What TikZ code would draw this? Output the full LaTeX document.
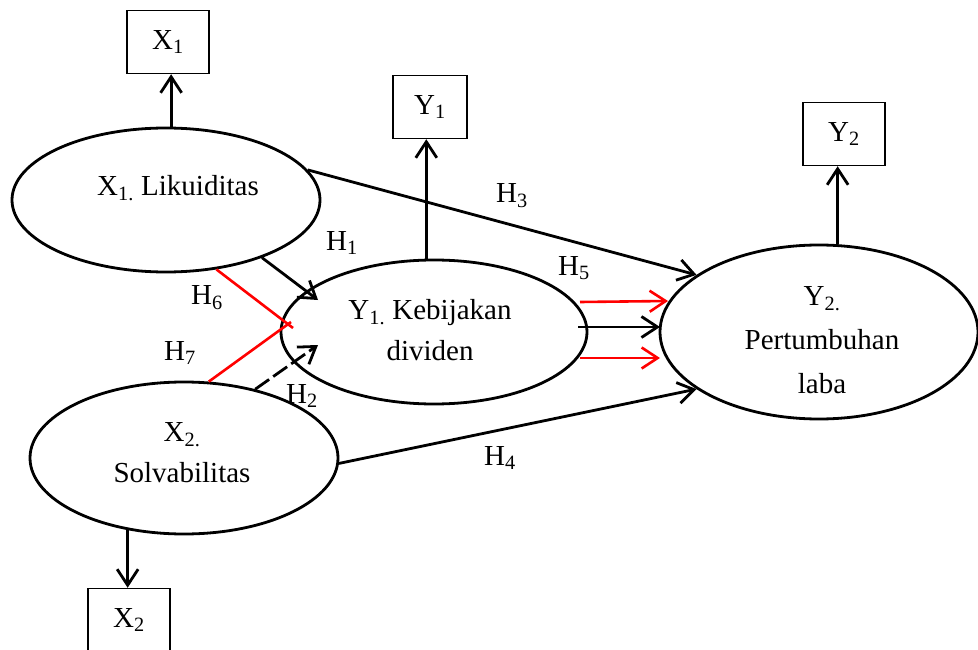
\documentclass[tikz,border=0pt]{standalone}
\usepackage{fontspec}
\setmainfont{Liberation Serif}
\usetikzlibrary{shapes.geometric,arrows.meta}

\tikzset{
  var/.style={draw, ellipse, line width=2.8pt, inner sep=0pt},
  ind/.style={draw, line width=1.5pt, minimum width=82pt, minimum height=63pt, inner sep=0pt},
  txt/.style={align=center, inner sep=0pt},
  hlab/.style={inner sep=0pt},
  hyp/.style={line width=2.8pt, -{Straight Barb[length=16pt,width=21pt]}},
  redline/.style={line width=2.6pt, red},
}

\begin{document}
\begin{tikzpicture}[x=1pt, y=-1pt, font=\fontsize{29}{41}\selectfont]
    \useasboundingbox (0,0) rectangle (978,650);

    % Latent variables
    \node[var, minimum width=308pt, minimum height=144pt] (x1) at (166,200) {};
    \node[var, minimum width=306pt, minimum height=144pt] (y1) at (434,332) {};
    \node[var, minimum width=318pt, minimum height=174pt] (y2) at (819,332) {};
    \node[var, minimum width=308pt, minimum height=152pt] (x2) at (184,458) {};

    \node[txt] (x1t) at ([shift={(12,-12)}]x1.center) {X\textsubscript{1.} Likuiditas};
    \node[txt] (y1t) at ([shift={(-4,-2)}]y1.center) {Y\textsubscript{1.} Kebijakan\\dividen};
    \node[txt] (y2t) at ([shift={(3,8)}]y2.center) {Y\textsubscript{2.}\\[3pt]Pertumbuhan\\[3pt]laba};
    \node[txt] (x2t) at ([shift={(-2,-5)}]x2.center) {X\textsubscript{2.}\\Solvabilitas};

    % Indicators
    \node[ind] (bx1) at (168,42) {X\textsubscript{1}};
    \node[ind, minimum width=74pt] (by1) at (430,107) {Y\textsubscript{1}};
    \node[ind] (by2) at (844,134) {Y\textsubscript{2}};
    \node[ind] (bx2) at (129,620) {X\textsubscript{2}};

    \draw[hyp] (x1.86) -- (x1.86 |- bx1.south);
    \draw[hyp] (y1.96) -- (y1.96 |- by1.south);
    \draw[hyp] (y2.78) -- (y2.78 |- by2.south);
    \draw[hyp] (x2.232) -- (x2.232 |- bx2.north);

    % Hypotheses
    \draw[hyp] (x1.12) -- (y2.155);
    \draw[hyp] (x2.-2) -- (y2.205);
    \draw[hyp] (x1.-31) -- ([shift={(-116,-32)}]y1.center);
    \draw[hyp, dash pattern=on 17pt off 5pt] (x2.44) -- ([shift={(-116,13)}]y1.center);
    \draw[redline] (x1.-54) -- ([shift={(-141,-4)}]y1.center);
    \draw[redline] (x2.72) -- ([shift={(-143,-10)}]y1.center);

    \draw[hyp, red, line width=2.6pt] ([shift={(146,-30)}]y1.center) -- ([shift={(-151,-31)}]y2.center);
    \draw[hyp] ([shift={(144,-5)}]y1.center) -- ([shift={(-159,-5)}]y2.center);
    \draw[hyp, red, line width=2.6pt] ([shift={(146,26)}]y1.center) -- ([shift={(-159,26)}]y2.center);

    \node[hlab] (h1) at (342,243) {H\textsubscript{1}};
    \node[hlab] (h2) at (302,396) {H\textsubscript{2}};
    \node[hlab] (h3) at (512,196) {H\textsubscript{3}};
    \node[hlab] (h4) at (500,458) {H\textsubscript{4}};
    \node[hlab] (h5) at (574,268) {H\textsubscript{5}};
    \node[hlab] (h6) at (207,298) {H\textsubscript{6}};
    \node[hlab] (h7) at (180,353) {H\textsubscript{7}};
\end{tikzpicture}
\end{document}
